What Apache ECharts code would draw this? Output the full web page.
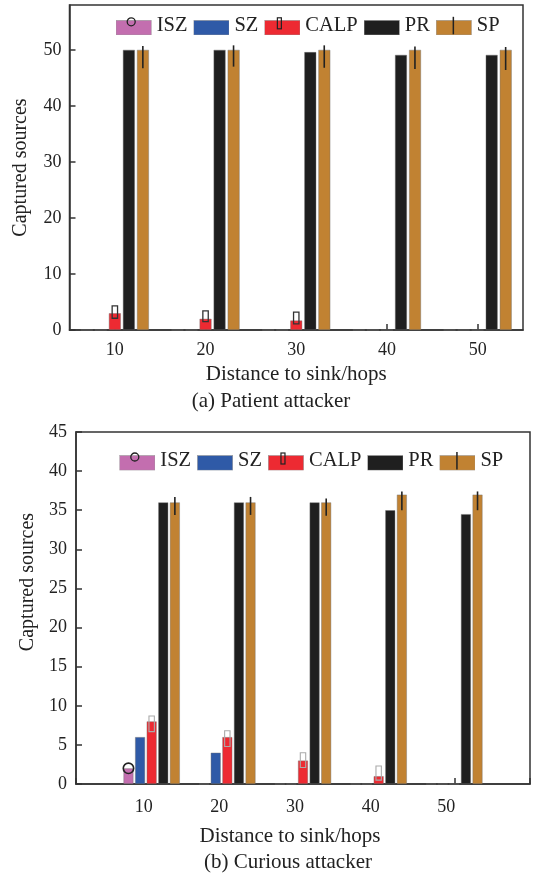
<!DOCTYPE html>
<html>
<head>
<meta charset="utf-8">
<script src="https://cdn.jsdelivr.net/npm/echarts@6/dist/echarts.min.js"></script>
<style>html,body{margin:0;padding:0;background:#fff;}#c{width:542px;height:876px;}</style>
</head>
<body>
<div id="c"></div>
<script>
// ---------- data ----------
const categoriesA = ['10', '20', '30', '40', '50'];
const categoriesB = [10, 20, 30, 40, 50];
const seriesNames = ['ISZ', 'SZ', 'CALP', 'PR', 'SP'];

// (a) Patient attacker
const aISZ = [0, 0, 0, 0, 0];
const aSZ = [0, 0, 0, 0, 0];
const aCALP = [3, 2, 1.7, 0, 0];
const aPR = [50, 50, 49.6, 49.1, 49.1];
const aSP = [50, 50, 50, 50, 50];
const aCALPBoxLow = [2.1, 1.5, 1.1, null, null];
const aCALPBoxHigh = [4.3, 3.4, 3.2, null, null];
const aSPErrLow = [46.7, 47.0, 46.8, 46.6, 46.4];
const aSPErrHigh = [50.7, 50.8, 50.8, 50.6, 50.5];

// (b) Curious attacker
const bISZ = [2, 0, 0, 0, 0];
const bSZ = [6, 4, 0, 0, 0];
const bCALP = [8, 6, 3, 1, 0];
const bPR = [36, 36, 36, 35, 34.5];
const bSP = [36, 36, 36, 37, 37];
const bISZMarker = [2, null, null, null, null];
const bCALPBoxLow = [6.7, 4.8, 2.1, 0.5, null];
const bCALPBoxHigh = [8.7, 6.8, 4.0, 2.3, null];
const bSPErrLow = [34.4, 34.4, 34.3, 35.0, 35.0];
const bSPErrHigh = [36.7, 36.7, 36.5, 37.4, 37.4];

const yTicksA = {min: 0, max: 58, interval: 10};
const yTicksB = {min: 0, max: 45, interval: 5};
const xTicksB = {min: 0, max: 60, interval: 10};

// ---------- style ----------
const colors = ['#C36EAF', '#2F5AA7', '#ED2A32', '#1F1F1F', '#C18232'];
const FONT = 'Liberation Serif';
const INK = '#222';
const AX = '#333';

function legendIcon(fill, marker) {
  let m = '';
  if (marker === 'circle') m = '<circle cx="15.5" cy="5.5" r="4" fill="none" stroke="#222" stroke-width="1.3"/>';
  if (marker === 'box') m = '<rect x="13" y="1.5" width="4" height="11" fill="none" stroke="#222" stroke-width="1.2"/>';
  if (marker === 'line') m = '<line x1="17.5" y1="0.5" x2="17.5" y2="18" stroke="#222" stroke-width="1.5"/>';
  const svg = '<svg xmlns="http://www.w3.org/2000/svg" width="36" height="19" viewBox="0 0 36 19">' +
    '<rect x="0.3" y="4" width="35.4" height="14.7" fill="' + fill + '" stroke="#999" stroke-width="0.6"/>' + m + '</svg>';
  return 'image://data:image/svg+xml;charset=utf-8,' + encodeURIComponent(svg);
}
const markers = ['circle', null, 'box', null, 'line'];
const legendData = seriesNames.map((n, i) => ({name: n, icon: legendIcon(colors[i], markers[i])}));

function bar(name, data, color, xi, yi, width, gap) {
  return {
    type: 'bar', name: name, data: data, xAxisIndex: xi, yAxisIndex: yi,
    barWidth: width, barGap: gap,
    itemStyle: {color: color, borderColor: 'rgba(110,110,110,0.7)', borderWidth: 0.6},
    emphasis: {disabled: true}, animation: false
  };
}

// custom overlay marks (error bars / markers)
function overlay(name, xi, yi, data, kind, barIdx, pitch, stroke, w) {
  return {
    type: 'custom', name: name, xAxisIndex: xi, yAxisIndex: yi, z: 10, silent: true,
    animation: false, data: data,
    encode: {x: 0, y: 1},
    renderItem: function (params, api) {
      const x = api.value(0);
      const lo = api.value(1), hi = api.value(2);
      const pHi = api.coord([x, hi]);
      const pLo = api.coord([x, lo]);
      const cx = pHi[0] + (barIdx - 2) * pitch;
      if (kind === 'line') {
        return {type: 'line', shape: {x1: cx, y1: pHi[1], x2: cx, y2: pLo[1]},
          style: {stroke: stroke, lineWidth: w}};
      }
      if (kind === 'box') {
        return {type: 'rect', shape: {x: cx - 2.7, y: pHi[1], width: 5.4, height: pLo[1] - pHi[1]},
          style: {stroke: stroke, fill: 'none', lineWidth: w}};
      }
      if (kind === 'circle') {
        return {type: 'circle', shape: {cx: cx, cy: pHi[1], r: 5.2},
          style: {stroke: stroke, fill: 'none', lineWidth: w}};
      }
    }
  };
}

function rangeData(xs, lo, hi) {
  const out = [];
  for (let i = 0; i < xs.length; i++) {
    if (lo[i] !== null && hi[i] !== null) out.push([xs[i], lo[i], hi[i]]);
  }
  return out;
}

const pitchA = 14, pitchB = 11.6;
const barWA = 12, barWB = 10;
const gapA = '17%', gapB = '16%';

const aVals = [aISZ, aSZ, aCALP, aPR, aSP];
const bVals = [bISZ, bSZ, bCALP, bPR, bSP];

const series = [];
seriesNames.forEach((n, i) => series.push(bar(n, aVals[i], colors[i], 0, 0, barWA, gapA)));
seriesNames.forEach((n, i) => series.push(bar(n, bVals[i].map((v, k) => [categoriesB[k], v]), colors[i], 1, 1, barWB, gapB)));

series.push(overlay('a-calp-box', 0, 0, rangeData(categoriesA, aCALPBoxLow, aCALPBoxHigh), 'box', 2, pitchA, '#333', 1.3));
series.push(overlay('a-sp-err', 0, 0, rangeData(categoriesA, aSPErrLow, aSPErrHigh), 'line', 4, pitchA, '#222', 1.6));
series.push(overlay('b-isz-mark', 1, 1, rangeData(categoriesB, bISZMarker, bISZMarker), 'circle', 0, pitchB, '#222', 1.6));
series.push(overlay('b-calp-box', 1, 1, rangeData(categoriesB, bCALPBoxLow, bCALPBoxHigh), 'box', 2, pitchB, '#aaa', 1.1));
series.push(overlay('b-sp-err', 1, 1, rangeData(categoriesB, bSPErrLow, bSPErrHigh), 'line', 4, pitchB, '#222', 1.6));

const axisLineStyle = {show: true, lineStyle: {color: AX, width: 1.5}};
const tickStyle = {show: true, inside: true, length: 6, lineStyle: {color: AX, width: 1.5}};
const labelStyle = {color: INK, fontFamily: FONT, fontSize: 18};
const nameStyleX = {color: INK, fontFamily: FONT, fontSize: 21};
const nameStyleY = {color: INK, fontFamily: FONT, fontSize: 20};

const option = {
  backgroundColor: '#fff',
  animation: false,
  textStyle: {fontFamily: FONT},
  grid: [
    {left: 69.5, top: 5, width: 453.5, height: 325, show: true, borderColor: AX, borderWidth: 1.5, backgroundColor: 'transparent', containLabel: false},
    {left: 76, top: 432, width: 454, height: 352, show: true, borderColor: AX, borderWidth: 1.5, backgroundColor: 'transparent', containLabel: false}
  ],
  legend: [
    {data: legendData, left: 115.7, top: 15.3, padding: 0, itemWidth: 36, itemHeight: 19, itemGap: 6,
      textStyle: {color: INK, fontFamily: FONT, fontSize: 20.5}, selectedMode: false},
    {data: legendData, left: 119.3, top: 450.5, padding: 0, itemWidth: 36, itemHeight: 19, itemGap: 6,
      textStyle: {color: INK, fontFamily: FONT, fontSize: 20.5}, selectedMode: false}
  ],
  xAxis: [
    {type: 'category', gridIndex: 0, data: categoriesA, boundaryGap: true,
      axisLine: axisLineStyle, axisTick: Object.assign({alignWithLabel: true}, tickStyle),
      axisLabel: Object.assign({margin: 11}, labelStyle), splitLine: {show: false},
      name: 'Distance to sink/hops', nameLocation: 'middle', nameGap: 34, nameTextStyle: nameStyleX},
    {type: 'value', gridIndex: 1, min: xTicksB.min, max: xTicksB.max, interval: xTicksB.interval,
      axisLine: axisLineStyle, axisTick: tickStyle,
      axisLabel: Object.assign({margin: 14, padding: [0, 16, 0, 0],
        formatter: v => (v === xTicksB.min || v === xTicksB.max) ? '' : String(v)}, labelStyle),
      splitLine: {show: false},
      name: 'Distance to sink/hops', nameLocation: 'middle', nameGap: 42,
      nameTextStyle: Object.assign({padding: [0, 26, 0, 0]}, nameStyleX)}
  ],
  yAxis: [
    {type: 'value', gridIndex: 0, min: yTicksA.min, max: yTicksA.max, interval: yTicksA.interval,
      axisLine: axisLineStyle, axisTick: tickStyle,
      axisLabel: Object.assign({margin: 8, showMaxLabel: false}, labelStyle), splitLine: {show: false},
      name: 'Captured sources', nameLocation: 'middle', nameGap: 39, nameTextStyle: nameStyleY},
    {type: 'value', gridIndex: 1, min: yTicksB.min, max: yTicksB.max, interval: yTicksB.interval,
      axisLine: axisLineStyle, axisTick: tickStyle,
      axisLabel: Object.assign({margin: 9}, labelStyle), splitLine: {show: false},
      name: 'Captured sources', nameLocation: 'middle', nameGap: 37,
      nameTextStyle: Object.assign({padding: [0, 0, 0, 52]}, nameStyleY)}
  ],
  graphic: [
    {type: 'text', left: 'center', x: 0, style: {text: '(a) Patient attacker', x: 293, y: 401.7, align: 'center', verticalAlign: 'middle', fill: INK, font: '21px "Liberation Serif"'}},
    {type: 'text', style: {text: '(b) Curious attacker', x: 288, y: 862.7, align: 'center', verticalAlign: 'middle', fill: INK, font: '21px "Liberation Serif"'}}
  ],
  series: series
};

const chart = echarts.init(document.getElementById('c'), null, {renderer: 'canvas'});
chart.setOption(option);
</script>
</body>
</html>
